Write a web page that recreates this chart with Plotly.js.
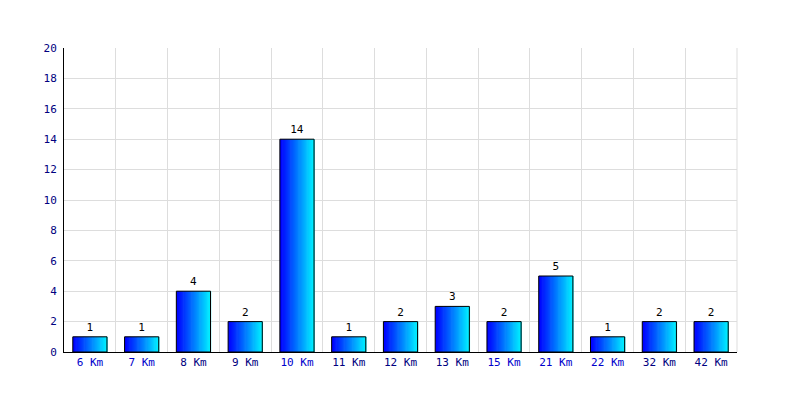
<!DOCTYPE html>
<html>
<head>
<meta charset="utf-8">
<script src="https://cdn.plot.ly/plotly-3.0.1.min.js"></script>
<style>html,body{margin:0;padding:0;background:#fff;}#chart{width:800px;height:400px;}</style>
</head>
<body>
<div id="chart"></div>
<script>
const categories = ["6 Km","7 Km","8 Km","9 Km","10 Km","11 Km","12 Km","13 Km","15 Km","21 Km","22 Km","32 Km","42 Km"];
const values = [1,1,4,2,14,1,2,3,2,5,1,2,2];
const labelColors = ["#0000cc","#0000cc","#000080","#000080","#0000cc","#000080","#000080","#000080","#0000cc","#0000cc","#0000cc","#000080","#000080"];
const yTicks = [0,2,4,6,8,10,12,14,16,18,20];

const barW = 0.66;
const N = 30;
const traces = [];
for (let i = 0; i < N; i++) {
  const t = i / (N - 1);
  const g = Math.round(240 * t);
  const slice = barW / N;
  traces.push({
    type: 'bar', x: categories, y: values,
    width: slice * 1.6,
    offset: -barW / 2 + i * slice,
    marker: {color: `rgb(0,${g},255)`, line: {width: 0}},
    hoverinfo: 'skip', showlegend: false
  });
}
traces.push({
  type: 'bar', x: categories, y: values,
  width: barW, offset: -barW / 2,
  marker: {color: 'rgba(0,0,0,0)', line: {color: '#000', width: 1}},
  text: values.map(String), textposition: 'outside', cliponaxis: false,
  textfont: {family: 'DejaVu Sans Mono', size: 11, color: '#000'},
  showlegend: false
});

const layout = {
  width: 800, height: 400,
  margin: {l: 64, r: 63, t: 48, b: 48},
  paper_bgcolor: '#fff', plot_bgcolor: '#fff',
  barmode: 'overlay',
  font: {family: 'DejaVu Sans Mono', size: 11, color: '#000080'},
  xaxis: {
    type: 'category', range: [-0.5, 12.5],
    tickmode: 'array', tickvals: categories,
    ticktext: categories.map((c, i) => `<span style="color:${labelColors[i]}">${c}</span>`),
    tickson: 'boundaries', ticks: '', showgrid: true, gridcolor: '#dddddd', gridwidth: 1,
    showline: true, linecolor: '#000', linewidth: 1,
    tickfont: {family: 'DejaVu Sans Mono', size: 11}, fixedrange: true
  },
  yaxis: {
    range: [0, 20], tickmode: 'array', tickvals: yTicks,
    showgrid: true, gridcolor: '#dddddd', gridwidth: 1,
    showline: true, linecolor: '#000', linewidth: 1, zeroline: false,
    ticks: '', ticklabelstandoff: 4,
    tickfont: {family: 'DejaVu Sans Mono', size: 11, color: '#000080'}, fixedrange: true
  },
  shapes: [{
    type: 'line', xref: 'paper', yref: 'paper', x0: 1, x1: 1, y0: 0, y1: 1,
    line: {color: '#dddddd', width: 1}, layer: 'below'
  }]
};
Plotly.newPlot('chart', traces, layout, {displayModeBar: false, staticPlot: true});
</script>
</body>
</html>
